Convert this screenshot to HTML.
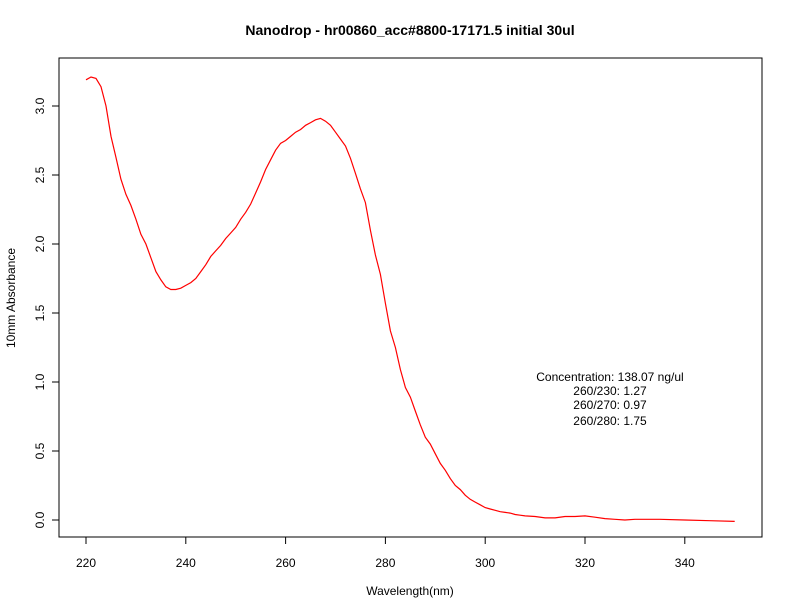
<!DOCTYPE html>
<html><head><meta charset="utf-8"><style>
body{margin:0;background:#fff}
svg{display:block;font-family:"Liberation Sans",Arial,sans-serif}
</style></head><body>
<svg id="chart" width="792" height="612" viewBox="0 0 792 612">
<rect width="792" height="612" fill="#fff"/>
<text x="410" y="35" text-anchor="middle" font-size="14" font-weight="bold">Nanodrop - hr00860_acc#8800-17171.5 initial 30ul</text>
<rect x="59" y="58" width="703" height="479" fill="none" stroke="#000"/>
<g id="xaxis"></g>
<g id="yaxis"></g>
<text x="410" y="595" text-anchor="middle" font-size="12">Wavelength(nm)</text>
<text transform="translate(15,298) rotate(-90)" text-anchor="middle" font-size="12">10mm Absorbance</text>
<path id="line" fill="none" stroke="#ff0000" stroke-width="1.2"/>
<g font-size="12" text-anchor="middle">
<text x="610" y="381">Concentration: 138.07 ng/ul</text>
<text x="610" y="395">260/230: 1.27</text>
<text x="610" y="409">260/270: 0.97</text>
<text x="610" y="425">260/280: 1.75</text>
</g>
</svg>
<script>
const wavelengths=[220,221,222,223,224,225,226,227,228,229,230,231,232,233,234,235,236,237,238,239,240,241,242,243,244,245,246,247,248,249,250,251,252,253,254,255,256,257,258,259,260,261,262,263,264,265,266,267,268,269,270,271,272,273,274,275,276,277,278,279,280,281,282,283,284,285,286,287,288,289,290,291,292,293,294,295,296,297,298,299,300,301,302,303,304,305,306,307,308,310,312,314,316,318,320,322,324,326,328,330,335,340,345,350];
const absorbance=[3.19,3.21,3.20,3.14,3.0,2.78,2.63,2.47,2.36,2.28,2.18,2.07,2.00,1.90,1.80,1.74,1.69,1.67,1.67,1.68,1.70,1.72,1.75,1.80,1.85,1.91,1.95,1.99,2.04,2.08,2.12,2.18,2.23,2.29,2.37,2.45,2.54,2.61,2.68,2.73,2.75,2.78,2.81,2.83,2.86,2.88,2.90,2.91,2.89,2.86,2.81,2.76,2.71,2.62,2.51,2.40,2.30,2.10,1.92,1.78,1.57,1.37,1.25,1.09,0.96,0.89,0.79,0.69,0.60,0.55,0.48,0.41,0.36,0.30,0.25,0.22,0.18,0.15,0.13,0.11,0.09,0.08,0.07,0.06,0.055,0.05,0.04,0.035,0.03,0.025,0.015,0.015,0.025,0.025,0.03,0.02,0.01,0.005,0.0,0.005,0.005,0.0,-0.005,-0.01];
const xTicks=[220,240,260,280,300,320,340];
const yTicks=[0.0,0.5,1.0,1.5,2.0,2.5,3.0];
const sx=v=>86+(v-220)*4.99;
const sy=v=>520-v*138;
const NS="http://www.w3.org/2000/svg";
const xa=document.getElementById('xaxis'), ya=document.getElementById('yaxis');
function mk(t,a){const e=document.createElementNS(NS,t);for(const k in a)e.setAttribute(k,a[k]);return e;}
let l=mk('line',{x1:sx(xTicks[0]),x2:sx(xTicks[xTicks.length-1]),y1:537,y2:537,stroke:'#000'});


xa.appendChild(l);
xTicks.forEach(v=>{
 const t=mk('line',{x1:sx(v),x2:sx(v),y1:537,y2:544,stroke:'#000'});
 
 
 xa.appendChild(t);
 const s=mk('text',{x:sx(v),y:567,'text-anchor':'middle','font-size':12});
 
 
 s.textContent=v;xa.appendChild(s);
});
l=mk('line',{x1:59,x2:59,y1:sy(yTicks[0]),y2:sy(yTicks[yTicks.length-1]),stroke:'#000'});


ya.appendChild(l);
yTicks.forEach(v=>{
 const t=mk('line',{x1:52,x2:59,y1:sy(v),y2:sy(v),stroke:'#000'});
 
 
 ya.appendChild(t);
 const s=mk('text',{transform:`translate(44,${sy(v)}) rotate(-90)`,'text-anchor':'middle','font-size':12});
 
 
 s.textContent=v.toFixed(1);ya.appendChild(s);
});
document.getElementById('line').setAttribute('d',wavelengths.map((w,i)=>(i?'L':'M')+sx(w).toFixed(1)+','+sy(absorbance[i]).toFixed(1)).join(''));
</script>
</body></html>
